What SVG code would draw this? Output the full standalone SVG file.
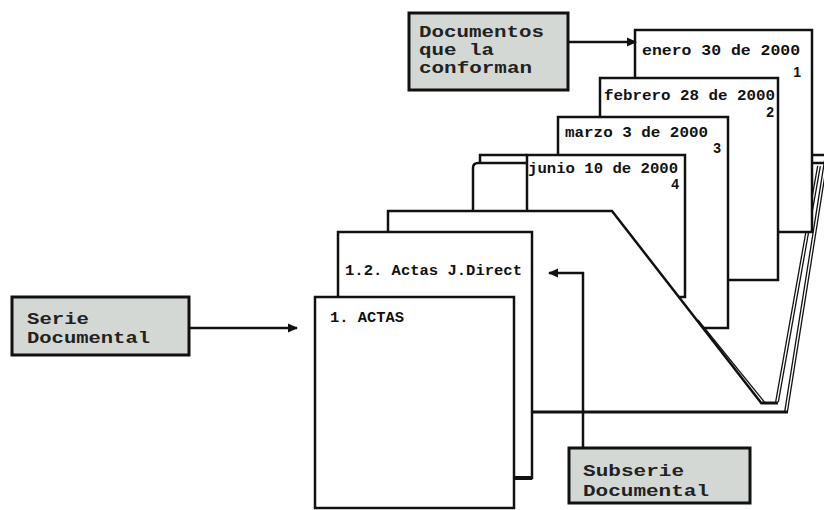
<svg xmlns="http://www.w3.org/2000/svg" width="824" height="510" viewBox="0 0 824 510">
<defs>
<marker id="ah" markerUnits="userSpaceOnUse" markerWidth="10" markerHeight="10" viewBox="0 0 10 10" refX="9" refY="5" orient="auto">
<path d="M0,0.5 L10,5 L0,9.5 z" fill="#111"/>
</marker>
<style>
.pg{fill:#fff;stroke:#111;stroke-width:2.5}
.ln{fill:none;stroke:#111;stroke-width:2.5}
.thin{fill:none;stroke:#111;stroke-width:1.3}
.dg{stroke:#111;stroke-width:4}
.hol{fill:none;stroke:#fff;stroke-width:1.4}
.lab{fill:#d4d8d4;stroke:#111;stroke-width:3}
.lt{font-family:"Liberation Mono","DejaVu Sans Mono",monospace;font-weight:bold;font-size:16px;fill:#222}
.pt{font-family:"Liberation Mono","DejaVu Sans Mono",monospace;font-weight:bold;font-size:14px;fill:#111}
.num{font-family:"Liberation Sans",Arial,sans-serif;font-weight:bold;font-size:14px;fill:#111}
.con{fill:none;stroke:#111;stroke-width:2.5}
</style>
</defs>
<rect width="824" height="510" fill="#fff"/>

<g id="folder-back">
<path class="ln" d="M480,163 V155 H527"/>
<path class="ln" d="M812,155 H826"/>
<path class="ln" d="M473,211 V168 Q473,163 478,163 H527"/>
<path class="ln" d="M812,163 H824"/>
<line x1="826" y1="160" x2="786" y2="412" class="dg"/>
<line x1="826" y1="160" x2="786" y2="412" class="hol"/>
<line x1="819" y1="166" x2="777" y2="402" class="dg"/>
<line x1="819" y1="166" x2="777" y2="402" class="hol"/>
</g>

<g id="doc1">
<rect class="pg" x="635" y="30" width="177" height="202"/>
<text class="pt" x="642" y="55" textLength="158" lengthAdjust="spacingAndGlyphs">enero 30 de 2000</text>
<text class="num" x="801" y="77" text-anchor="end">1</text>
</g>
<g id="doc2">
<rect class="pg" x="600" y="78" width="178" height="202"/>
<text class="pt" x="604" y="100" textLength="171" lengthAdjust="spacingAndGlyphs">febrero 28 de 2000</text>
<text class="num" x="774" y="117" text-anchor="end">2</text>
</g>
<g id="doc3">
<rect class="pg" x="558" y="117" width="170" height="211"/>
<text class="pt" x="565" y="137" textLength="143" lengthAdjust="spacingAndGlyphs">marzo 3 de 2000</text>
<text class="num" x="721" y="153" text-anchor="end">3</text>
</g>
<g id="doc4">
<rect class="pg" x="527" y="155" width="158" height="142"/>
<text class="pt" x="528" y="173" textLength="150" lengthAdjust="spacingAndGlyphs">junio 10 de 2000</text>
<text class="num" x="679" y="189" text-anchor="end">4</text>
</g>

<g id="folder-main">
<polygon points="388,211 612,211 763,405 787,412 532,412 532,232 388,232" fill="#fff"/>
<path class="ln" d="M388,232 V211 H612 L762,404" stroke-width="3"/>
<line class="thin" x1="698" y1="320" x2="766" y2="404"/>
<line class="thin" x1="703" y1="328" x2="728" y2="328"/>
<line x1="762" y1="403" x2="778" y2="403" stroke="#111" stroke-width="3"/>
<line x1="532" y1="412" x2="788" y2="412" stroke="#111" stroke-width="3"/>
</g>

<g id="subserie-page">
<rect class="pg" x="338" y="232" width="194" height="246"/>
<line x1="513" y1="478" x2="532" y2="478" stroke="#111" stroke-width="4"/>
<text class="pt" x="345" y="275" textLength="177" lengthAdjust="spacingAndGlyphs">1.2. Actas J.Direct</text>
</g>

<g id="serie-page">
<rect class="pg" x="315" y="297" width="199" height="211"/>
<text class="pt" x="330" y="322" textLength="74" lengthAdjust="spacingAndGlyphs">1. ACTAS</text>
</g>

<g id="connectors">
<line class="con" x1="569" y1="42" x2="636" y2="42" marker-end="url(#ah)"/>
<line class="con" x1="190" y1="328" x2="297" y2="328" marker-end="url(#ah)"/>
<polyline class="con" points="583,448 583,273 549,273" marker-end="url(#ah)"/>
</g>

<g id="label-documentos">
<rect class="lab" x="409" y="13" width="159" height="77"/>
<text class="lt" x="419" y="37" textLength="125" lengthAdjust="spacingAndGlyphs">Documentos</text>
<text class="lt" x="419" y="55" textLength="75" lengthAdjust="spacingAndGlyphs">que la</text>
<text class="lt" x="419" y="73" textLength="113" lengthAdjust="spacingAndGlyphs">conforman</text>
</g>
<g id="label-serie">
<rect class="lab" x="12" y="297" width="177" height="58"/>
<text class="lt" x="27" y="324" textLength="62" lengthAdjust="spacingAndGlyphs">Serie</text>
<text class="lt" x="27" y="343" textLength="123" lengthAdjust="spacingAndGlyphs">Documental</text>
</g>
<g id="label-subserie">
<rect class="lab" x="569" y="448" width="181" height="55"/>
<text class="lt" x="583" y="476" textLength="101" lengthAdjust="spacingAndGlyphs">Subserie</text>
<text class="lt" x="583" y="496" textLength="126" lengthAdjust="spacingAndGlyphs">Documental</text>
</g>
</svg>
